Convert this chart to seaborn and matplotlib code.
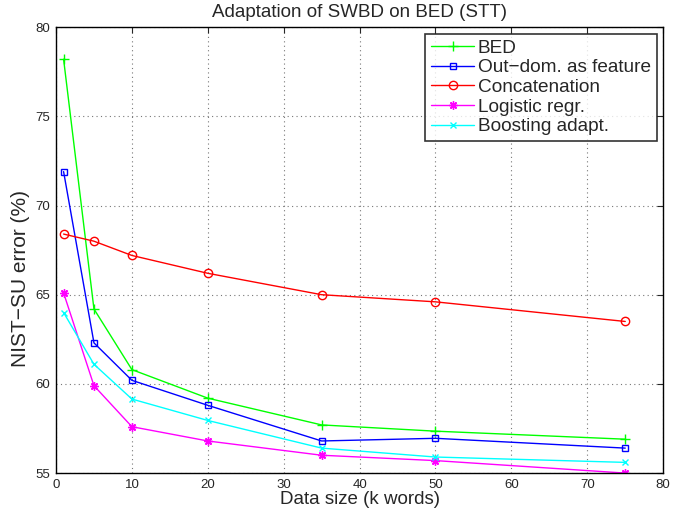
import pandas as pd
import numpy as np
import matplotlib.pyplot as plt
import seaborn as sns

# tamanhos de dados (k palavras)
data_size = [1, 5, 10, 20, 35, 50, 75]

bed = [78.2, 64.2, 60.8, 59.2, 57.7, 57.35, 56.9]
out_dom = [71.9, 62.3, 60.2, 58.8, 56.8, 56.95, 56.4]
concat = [68.4, 68.0, 67.2, 66.2, 65.0, 64.6, 63.5]
logistic = [65.1, 59.9, 57.6, 56.8, 56.0, 55.7, 55.0]
boosting = [64.0, 61.1, 59.15, 57.95, 56.4, 55.9, 55.6]

nomes = ['BED', 'Out\u2212dom. as feature', 'Concatenation', 'Logistic regr.', 'Boosting adapt.']
series = [bed, out_dom, concat, logistic, boosting]
cores = ['#00ff00', '#0000ff', '#ff0000', '#ff00ff', '#00ffff']
# '*' do matlab = asterisco de 8 pontas
marcadores = ['+', 's', 'o', (8, 2, 0), 'x']
tamanhos = [7, 5, 6, 6, 5]

sns.set_style('white')
plt.rcParams['font.family'] = ['Liberation Sans', 'DejaVu Sans']

fig = plt.figure(figsize=(6.83, 5.12), dpi=100)
ax = fig.add_axes([0.082, 0.076, 0.889, 0.871])

for nome, valores, cor, m, ms in zip(nomes, series, cores, marcadores, tamanhos):
    df = pd.DataFrame({'x': data_size, 'y': valores})
    aberto = m in ('s', 'o')
    sns.lineplot(data=df, x='x', y='y', ax=ax, color=cor, marker=m,
                 markersize=ms, linewidth=1,
                 markerfacecolor='none' if aberto else cor,
                 markeredgecolor=cor, markeredgewidth=1,
                 label=nome)

ax.set_xlim(0, 80)
ax.set_ylim(55, 80)
ax.set_xticks(np.arange(0, 81, 10))
ax.set_yticks(np.arange(55, 81, 5))
ax.grid(True, linestyle=(0, (1, 3)), color='#777777', linewidth=0.8)
ax.tick_params(direction='in', top=True, right=True, length=4, labelsize=9.5, width=0.8, pad=4)
for s in ax.spines.values():
    s.set_color('black')
    s.set_linewidth(1)

ax.set_title('Adaptation of SWBD on BED (STT)', fontsize=13.5, pad=7)
ax.set_xlabel('Data size (k words)', fontsize=13.5, labelpad=0)
ax.set_ylabel('NIST\u2212SU error (%)', fontsize=15)
ax.yaxis.set_label_coords(-0.043, 0.437)

leg = ax.legend(loc='upper right', fontsize=13.7, handlelength=2.25, frameon=True,
                fancybox=False, borderaxespad=0.35, labelspacing=0.12,
                handletextpad=0.2, borderpad=0.3)
leg.get_frame().set_edgecolor('black')
leg.get_frame().set_linewidth(1.2)

fig.savefig('out.png', dpi=100)
